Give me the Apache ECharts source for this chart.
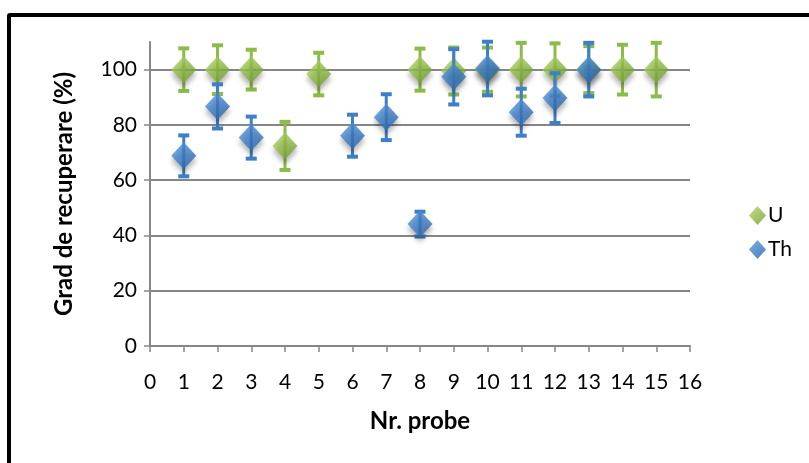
<!DOCTYPE html>
<html>
<head>
<meta charset="utf-8">
<script src="https://cdn.jsdelivr.net/npm/echarts@6/dist/echarts.min.js"></script>
<style>
  html, body { margin: 0; padding: 0; background: #fff; overflow: hidden; }
  #frame { position: absolute; left: 7px; top: 13px; width: 830px; height: 480px; border: 4px solid #000; border-radius: 3px; }
  #chart { position: absolute; left: 0; top: 0; width: 809px; height: 463px; }
</style>
</head>
<body>
<div id="frame"></div>
<div id="chart"></div>
<script>
// sample numbers (x axis)
var probe = [1, 2, 3, 4, 5, 6, 7, 8, 9, 10, 11, 12, 13, 14, 15];
// U recovery and error
var uValues = [100, 100, 100, 72.4, 98.4, null, null, 100, 99.5, 100, 100, 100, 100, 100, 100];
var uErr = [7.7, 8.8, 7.2, 8.7, 7.7, null, null, 7.6, 8.5, 8, 9.7, 9.5, 8.5, 9, 9.7];
// Th recovery and error
var thValues = [68.8, 86.7, 75.4, null, null, 76.1, 82.8, 44.1, 97.4, 100.4, 84.6, 89.7, 100, null, null];
var thErr = [7.4, 8, 7.6, null, null, 7.6, 8.3, 4.5, 10, 9.7, 8.5, 9, 9.7, null, null];

var yTicks = [0, 20, 40, 60, 80, 100];

function pts(vals, errs) {
  var out = [];
  for (var i = 0; i < probe.length; i++) {
    if (vals[i] != null) out.push([probe[i], vals[i], errs[i]]);
  }
  return out;
}

function errBars(color) {
  return function (params, api) {
    var x = api.value(0), y = api.value(1), e = api.value(2);
    var top = api.coord([x, y + e]);
    var bot = api.coord([x, y - e]);
    var w = 11, h = 4;
    return {
      type: 'group',
      children: [
        { type: 'rect', shape: { x: top[0] - 1.5, y: top[1], width: 3, height: bot[1] - top[1] }, style: { fill: color } },
        { type: 'rect', shape: { x: top[0] - w / 2, y: top[1] - h / 2, width: w, height: h }, style: { fill: color } },
        { type: 'rect', shape: { x: bot[0] - w / 2, y: bot[1] - h / 2, width: w, height: h }, style: { fill: color } }
      ]
    };
  };
}

var greenGrad = new echarts.graphic.LinearGradient(0, 0, 1, 1, [
  { offset: 0, color: '#b3d66a' }, { offset: 0.5, color: '#8fbb45' }, { offset: 1, color: '#6b9530' }
]);
var blueGrad = new echarts.graphic.LinearGradient(0, 0, 1, 1, [
  { offset: 0, color: '#5c9be0' }, { offset: 0.5, color: '#3b7cc6' }, { offset: 1, color: '#275f9f' }
]);

var font = 'Lato, "Open Sans", sans-serif';
var chart = echarts.init(document.getElementById('chart'));
chart.setOption({
  animation: false,
  backgroundColor: 'transparent',
  grid: { left: 150, right: 119, top: 42, bottom: 117 },
  legend: {
    orient: 'vertical', left: 744, top: 200, itemGap: 13,
    itemWidth: 17, itemHeight: 19,
    textStyle: { fontFamily: font, fontSize: 21, color: '#000', padding: [0, 0, 0, -3] },
    data: [
      { name: 'U', icon: 'diamond', itemStyle: { color: greenGrad } },
      { name: 'Th', icon: 'diamond', itemStyle: { color: blueGrad } }
    ]
  },
  xAxis: {
    type: 'value', min: 0, max: 16, interval: 1,
    name: 'Nr. probe', nameLocation: 'middle', nameGap: 63,
    nameTextStyle: { fontFamily: font, fontSize: 24, fontWeight: 'bold', color: '#000' },
    axisLine: { lineStyle: { color: '#868686', width: 2 } },
    axisTick: { show: true, length: 6, lineStyle: { color: '#868686', width: 1.5 } },
    axisLabel: { fontFamily: font, fontSize: 21, color: '#000', margin: 26 },
    splitLine: { show: false }
  },
  yAxis: {
    type: 'value', min: 0, max: 110, interval: 20,
    name: 'Grad de recuperare (%)', nameLocation: 'middle', nameGap: 74,
    nameTextStyle: { fontFamily: font, fontSize: 24, fontWeight: 'bold', color: '#000' },
    axisLine: { show: true, lineStyle: { color: '#868686', width: 2 } },
    axisTick: { show: true, length: 6, lineStyle: { color: '#868686', width: 1.5 } },
    axisLabel: {
      fontFamily: font, fontSize: 21, color: '#000', margin: 13, showMaxLabel: false,
      formatter: function (v) { return yTicks.indexOf(v) >= 0 ? String(v) : ''; }
    },
    splitLine: { show: true, showMaxLine: false, lineStyle: { color: '#868686', width: 2 } }
  },
  series: [
    { name: 'U-err', type: 'custom', renderItem: errBars('#8dbb48'), data: pts(uValues, uErr), z: 2, silent: true },
    {
      name: 'U', type: 'scatter', symbol: 'diamond', symbolSize: [25, 27], data: pts(uValues, uErr), z: 3,
      itemStyle: { color: greenGrad, shadowBlur: 5, shadowOffsetY: 5, shadowColor: 'rgba(0,0,0,0.35)' }
    },
    { name: 'Th-err', type: 'custom', renderItem: errBars('#3d7fc8'), data: pts(thValues, thErr), z: 4, silent: true },
    {
      name: 'Th', type: 'scatter', symbol: 'diamond', symbolSize: [25, 27], data: pts(thValues, thErr), z: 5,
      itemStyle: { color: blueGrad, shadowBlur: 5, shadowOffsetY: 5, shadowColor: 'rgba(0,0,0,0.35)' }
    }
  ]
});
</script>
</body>
</html>
